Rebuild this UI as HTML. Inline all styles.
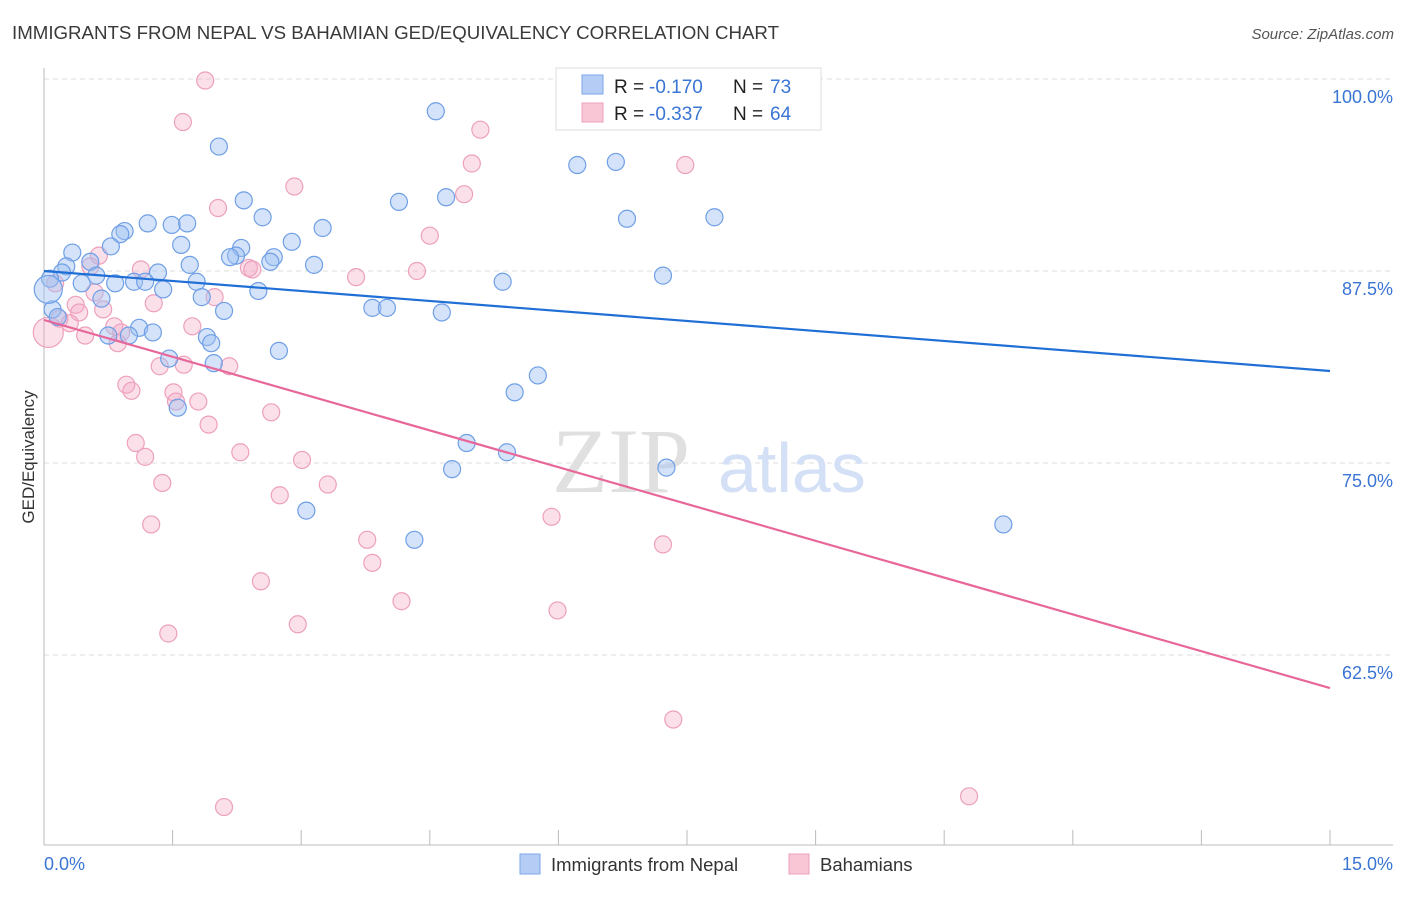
<!DOCTYPE html>
<html><head><meta charset="utf-8"><style>
body{margin:0;background:#fff;font-family:"Liberation Sans",sans-serif;}
</style></head><body>
<svg id="chart" width="1406" height="892" xmlns="http://www.w3.org/2000/svg" font-family="Liberation Sans, sans-serif">
<text x="12" y="39" font-size="18.7" fill="#3a3a3a">IMMIGRANTS FROM NEPAL VS BAHAMIAN GED/EQUIVALENCY CORRELATION CHART</text>
<text x="1394" y="39" font-size="15" fill="#555" text-anchor="end" font-style="italic">Source: ZipAtlas.com</text>
<g id="grid"></g>
<g><text x="552" y="492" font-size="92" fill="#e0e0e0" font-family="Liberation Serif, serif">ZIP</text><text x="718" y="492" font-size="70" fill="#d3e0f5">atlas</text></g>
<g id="pts"></g>
<g id="lines"></g>
<text transform="translate(34,457) rotate(-90)" font-size="17" fill="#333" text-anchor="middle">GED/Equivalency</text>
<text x="44" y="870" font-size="18" fill="#3a75d4">0.0%</text>
<text x="1393" y="870" font-size="18" fill="#3a75d4" text-anchor="end">15.0%</text>
<g>
<rect x="556" y="68" width="265" height="62" fill="#fff" stroke="#ddd"/>
<rect x="582" y="75" width="21" height="19" fill="#b5cdf4" stroke="#7aa6e8"/>
<rect x="582" y="103" width="21" height="19" fill="#f9c6d6" stroke="#eda0bd"/>
<text x="614" y="93" font-size="19" fill="#222">R =</text>
<text x="649" y="93" font-size="19" fill="#3a75d4">-0.170</text>
<text x="733" y="93" font-size="19" fill="#222">N =</text>
<text x="770" y="93" font-size="19" fill="#3a75d4">73</text>
<text x="614" y="120" font-size="19" fill="#222">R =</text>
<text x="649" y="120" font-size="19" fill="#3a75d4">-0.337</text>
<text x="733" y="120" font-size="19" fill="#222">N =</text>
<text x="770" y="120" font-size="19" fill="#3a75d4">64</text>
</g>
<g>
<rect x="520" y="854" width="20" height="20" fill="#b5cdf4" stroke="#7aa6e8"/>
<text x="551" y="871" font-size="18.5" fill="#333">Immigrants from Nepal</text>
<rect x="789" y="854" width="20" height="20" fill="#f9c6d6" stroke="#eda0bd"/>
<text x="820" y="871" font-size="18.5" fill="#333">Bahamians</text>
</g>
</svg>
<script>
const yTicks=[100,87.5,75,62.5];
const yTickLabels=["100.0%","87.5%","75.0%","62.5%"];
const xTicks=[0,1.5,3,4.5,6,7.5,9,10.5,12,13.5,15];
const nepalX=[4.57,2.04,6.22,6.67,2.33,4.14,4.69,2.55,6.80,7.82,1.21,1.49,1.67,3.25,0.94,0.89,0.78,1.60,2.89,2.30,0.33,2.24,2.17,2.68,2.64,3.15,1.70,0.54,0.26,0.21,0.61,1.33,0.07,0.44,0.83,1.05,1.18,1.39,1.78,2.50,5.35,7.22,0.67,1.84,0.10,0.16,2.10,3.83,4.00,4.64,1.11,1.27,0.75,0.99,1.90,1.95,2.74,1.46,1.98,5.76,5.49,1.56,4.93,5.40,4.76,7.26,3.06,4.32,11.19,6.30,0.05];
const nepalY=[97.9,95.6,94.4,94.6,92.1,92.0,92.3,91.0,90.9,91.0,90.6,90.5,90.6,90.3,90.1,89.9,89.1,89.2,89.4,89.0,88.7,88.5,88.4,88.4,88.1,87.9,87.9,88.1,87.8,87.4,87.2,87.4,87.0,86.7,86.7,86.8,86.8,86.3,86.8,86.2,86.8,87.2,85.7,85.8,85.0,84.5,84.9,85.1,85.1,84.8,83.8,83.5,83.3,83.3,83.2,82.8,82.3,81.8,81.5,80.7,79.6,78.6,76.3,75.7,74.6,74.7,71.9,70.0,71.0,99.3,86.3];
const bahX=[1.88,1.62,5.09,4.99,7.48,2.92,4.90,2.03,4.50,0.64,1.13,2.39,2.43,4.35,3.64,0.13,0.54,0.59,1.28,1.99,0.37,0.69,0.41,0.18,0.30,1.73,0.82,0.90,0.48,0.86,2.16,1.35,1.63,0.96,1.02,1.51,1.80,1.54,2.65,1.92,1.07,1.18,2.29,3.01,1.38,3.31,2.75,5.92,1.25,3.77,7.22,3.83,2.53,4.17,5.99,2.96,1.45,7.34,2.10,10.79,0.05];
const bahY=[99.9,97.2,96.7,94.5,94.4,93.0,92.5,91.6,89.8,88.5,87.6,87.7,87.6,87.5,87.1,86.7,87.8,86.1,85.4,85.8,85.3,85.0,84.8,84.4,84.1,83.9,83.9,83.5,83.3,82.8,81.3,81.3,81.4,80.1,79.7,79.6,79.0,79.0,78.3,77.5,76.3,75.4,75.7,75.2,73.7,73.6,72.9,71.5,71.0,70.0,69.7,68.5,67.3,66.0,65.4,64.5,63.9,58.3,52.6,53.3,83.5];
const trendNepal=[87.5,80.99];
const trendBah=[84.31,60.35];
const NS="http://www.w3.org/2000/svg";
const xs=v=>44+v/15*1286;
const ys=v=>79+(100-v)/12.5*192;
function mk(t,a,p){const e=document.createElementNS(NS,t);for(const k in a)e.setAttribute(k,a[k]);p.appendChild(e);return e;}
const g=document.getElementById('grid');
yTicks.forEach((t,i)=>{
 const l=mk('line',{x1:44,x2:1393,y1:ys(t),y2:ys(t),stroke:'#ddd','stroke-dasharray':'5,4'},g);
 
 
 const tx=mk('text',{x:1393,y:ys(t)+24,'font-size':18,fill:'#3a75d4','text-anchor':'end'},g);
 tx.textContent=yTickLabels[i];
 
 
});
const ax=mk('line',{x1:44,x2:44,y1:68,y2:845,stroke:'#bbb'},g);


const bx=mk('line',{x1:44,x2:1393,y1:845,y2:845,stroke:'#bbb'},g);


xTicks.forEach(t=>{
 const l=mk('line',{x1:xs(t),x2:xs(t),y1:830,y2:845,stroke:'#bbb'},g);
 
 
});
const p=document.getElementById('pts');
bahX.forEach((x,i)=>{
 const big=i===bahX.length-1;
 const c=mk('circle',{cx:xs(x),cy:ys(bahY[i]),r:big?15:8.5,fill:'rgba(244,165,195,0.35)',stroke:'#eda0bd','stroke-width':1.2},p);
 
 
});
nepalX.forEach((x,i)=>{
 const big=i===nepalX.length-1;
 const c=mk('circle',{cx:xs(x),cy:ys(nepalY[i]),r:big?14:8.5,fill:'rgba(160,192,242,0.45)',stroke:'#6f9fe6','stroke-width':1.2},p);
 
 
});
const L=document.getElementById('lines');
const t1=mk('line',{x1:xs(0),x2:xs(15),y1:ys(trendNepal[0]),y2:ys(trendNepal[1]),stroke:'#1f6fd6','stroke-width':2.2},L);


const t2=mk('line',{x1:xs(0),x2:xs(15),y1:ys(trendBah[0]),y2:ys(trendBah[1]),stroke:'#e8679a','stroke-width':2.2},L);


</script>
</body></html>
